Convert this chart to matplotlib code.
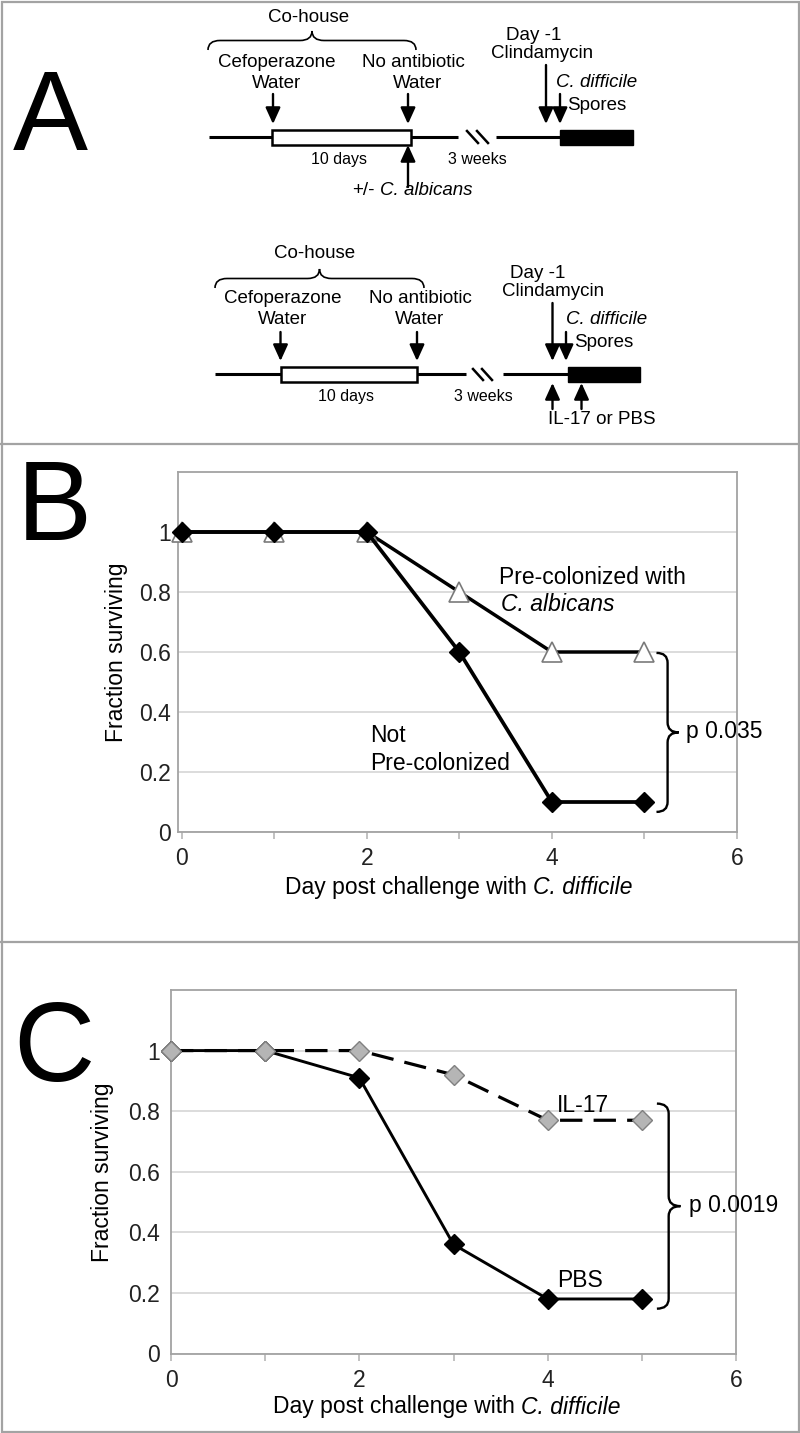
import matplotlib
matplotlib.use("Agg")
import matplotlib.pyplot as plt
from matplotlib.path import Path
from matplotlib.patches import PathPatch, Rectangle

plt.rcParams['font.family'] = ['Liberation Sans', 'DejaVu Sans']

# ---------------- data ----------------
days = [0, 1, 2, 3, 4, 5]
b_not_precolonized = [1, 1, 1, 0.6, 0.1, 0.1]
b_precolonized = [1, 1, 1, 0.8, 0.6, 0.6]
c_pbs = [1, 1, 0.91, 0.36, 0.18, 0.18]
c_il17 = [1, 1, 1, 0.92, 0.77, 0.77]
y_ticks = [0, 0.2, 0.4, 0.6, 0.8, 1]
y_ticklabels = ['0', '0.2', '0.4', '0.6', '0.8', '1']
x_major = [0, 2, 4, 6]
x_major_labels = ['0', '2', '4', '6']
x_minor = [1, 3, 5]
b_pvalue = 'p 0.035'
c_pvalue = 'p 0.0019'
ylabel_text = 'Fraction surviving'
xlabel_parts = [('Day post challenge with', 'normal'), ('C. difficile', 'italic')]
albicans_parts = [('+/-', 'normal'), ('C. albicans', 'italic')]

W, H = 800, 1433
fig = plt.figure(figsize=(W / 100, H / 100), dpi=100)
renderer = fig.canvas.get_renderer()
ov = fig.add_axes([0, 0, 1, 1])
ov.set_xlim(0, W)
ov.set_ylim(H, 0)
ov.axis('off')


def text_width(s, fs, style):
    t = ov.text(0, 0, s, fontsize=fs, style=style)
    w = t.get_window_extent(renderer).width
    t.remove()
    return w


def mixed_text(x, y, parts, fs, ha='center'):
    widths = [text_width(s, fs, st) for s, st in parts]
    sp = text_width('a a', fs, 'normal') - text_width('aa', fs, 'normal')
    total = sum(widths) + sp * (len(parts) - 1)
    x0 = x - total / 2 if ha == 'center' else x
    for (s, st), w in zip(parts, widths):
        ov.text(x0, y, s, fontsize=fs, style=st, ha='left', va='center')
        x0 += w + sp


GRAY = '#a3a3a3'
# frame & separators
ov.add_patch(Rectangle((1.5, 1.5), W - 3, H - 3, fill=False, ec=GRAY, lw=1.6))
ov.plot([0, W], [444, 444], color=GRAY, lw=1.6)
ov.plot([0, W], [942, 942], color=GRAY, lw=1.6)

# panel letters
for letter, x, yb in [('A', 13, 150), ('B', 17, 540), ('C', 13, 1081)]:
    ov.text(x, yb, letter, fontsize=81, ha='left', va='baseline', color='black')


def brace_path(t0, t1, s_end, s_tip, r, vertical=False):
    s_mid = (s_end + s_tip) / 2.0
    c = (t0 + t1) / 2.0
    sgn = 1 if t1 > t0 else -1
    pts = [(t0, s_end), (t0, s_mid), (t0 + sgn * r, s_mid),
           (c - sgn * r, s_mid), (c, s_mid), (c, s_tip),
           (c, s_mid), (c + sgn * r, s_mid),
           (t1 - sgn * r, s_mid), (t1, s_mid), (t1, s_end)]
    codes = [Path.MOVETO, Path.CURVE3, Path.CURVE3,
             Path.LINETO, Path.CURVE3, Path.CURVE3,
             Path.CURVE3, Path.CURVE3,
             Path.LINETO, Path.CURVE3, Path.CURVE3]
    if vertical:
        pts = [(s, t) for (t, s) in pts]
    return Path(pts, codes)


def arrow(x, y_from, y_to):
    ov.annotate('', xy=(x, y_to), xytext=(x, y_from),
                arrowprops=dict(arrowstyle='-|>,head_length=0.55,head_width=0.25',
                                lw=1.7, color='black', mutation_scale=18,
                                shrinkA=0, shrinkB=0))


def timeline(y, x0, box1, box2, brk0, brk1, bbox0, bbox1, brk_lines):
    ov.plot([x0, box1], [y, y], color='black', lw=2.2, solid_capstyle='butt')
    ov.plot([box2, brk0], [y, y], color='black', lw=2.2, solid_capstyle='butt')
    ov.plot([brk1, bbox0], [y, y], color='black', lw=2.2, solid_capstyle='butt')
    ov.add_patch(Rectangle((box1, y - 7.5), box2 - box1, 15, fc='white', ec='black', lw=1.8))
    ov.add_patch(Rectangle((bbox0, y - 7.5), bbox1 - bbox0, 15, fc='black', ec='black', lw=1.0))
    for (xa, ya, xb, yb) in brk_lines:
        ov.plot([xa, xb], [ya, yb], color='black', lw=1.8)


FS_A = 13.5
# ---------------- Panel A, top schematic ----------------
ov.text(309, 17, 'Co-house', fontsize=FS_A, ha='center', va='center')
ov.add_patch(PathPatch(brace_path(208, 416, 50, 31, 12), fill=False, lw=1.2, ec='black'))
ov.text(277, 62, 'Cefoperazone', fontsize=FS_A, ha='center', va='center')
ov.text(277, 83, 'Water', fontsize=FS_A, ha='center', va='center')
ov.text(413, 62, 'No antibiotic', fontsize=FS_A, ha='center', va='center')
ov.text(418, 83, 'Water', fontsize=FS_A, ha='center', va='center')
ov.text(534, 35, 'Day -1', fontsize=FS_A, ha='center', va='center')
ov.text(542, 53, 'Clindamycin', fontsize=FS_A, ha='center', va='center')
ov.text(556, 82, 'C. difficile', fontsize=FS_A, ha='left', va='center', style='italic')
ov.text(567, 105, 'Spores', fontsize=FS_A, ha='left', va='center')
arrow(273, 94, 124)
arrow(408, 94, 124)
arrow(546, 65, 124)
arrow(560, 94, 124)
arrow(408, 187, 145)
timeline(137, 209, 272, 411, 458, 496, 560, 633,
         [(467, 131, 478, 143), (477, 131, 488, 143)])
ov.text(339, 159, '10 days', fontsize=11.5, ha='center', va='center')
ov.text(477, 159, '3 weeks', fontsize=11.5, ha='center', va='center')
mixed_text(352, 190, albicans_parts, FS_A, ha='left')

# ---------------- Panel A, bottom schematic ----------------
ov.text(315, 253, 'Co-house', fontsize=FS_A, ha='center', va='center')
ov.add_patch(PathPatch(brace_path(215, 424, 288, 269, 12), fill=False, lw=1.2, ec='black'))
ov.text(283, 298, 'Cefoperazone', fontsize=FS_A, ha='center', va='center')
ov.text(283, 319, 'Water', fontsize=FS_A, ha='center', va='center')
ov.text(420, 298, 'No antibiotic', fontsize=FS_A, ha='center', va='center')
ov.text(420, 319, 'Water', fontsize=FS_A, ha='center', va='center')
ov.text(538, 273, 'Day -1', fontsize=FS_A, ha='center', va='center')
ov.text(553, 291, 'Clindamycin', fontsize=FS_A, ha='center', va='center')
ov.text(566, 319, 'C. difficile', fontsize=FS_A, ha='left', va='center', style='italic')
ov.text(574, 342, 'Spores', fontsize=FS_A, ha='left', va='center')
arrow(280.5, 332, 361)
arrow(417, 332, 361)
arrow(552.5, 303, 361)
arrow(566, 332, 361)
arrow(552.5, 409, 383)
arrow(581.5, 409, 383)
timeline(374, 215, 280.5, 417, 466, 503, 567.5, 639.5,
         [(473, 369, 483, 380), (482, 369, 492, 380)])
ov.text(346.5, 396, '10 days', fontsize=11.5, ha='center', va='center')
ov.text(483, 396, '3 weeks', fontsize=11.5, ha='center', va='center')
ov.text(602, 419, 'IL-17 or PBS', fontsize=FS_A, ha='center', va='center')


# ---------------- survival panels ----------------
def rect(l, t, r, b):
    return [l / W, 1 - b / H, (r - l) / W, (b - t) / H]


FS = 16.5


def style_axes(ax, xlim, ypad):
    ax.set_xlim(*xlim)
    ax.set_ylim(0, 1.2)
    ax.set_yticks(y_ticks)
    ax.set_yticklabels(y_ticklabels, fontsize=FS)
    ax.set_xticks(x_major)
    ax.set_xticklabels(x_major_labels, fontsize=FS)
    ax.set_xticks(x_minor, minor=True)
    ax.tick_params(axis='y', length=0, pad=ypad, labelcolor='#222222')
    ax.tick_params(axis='x', which='both', direction='out', length=5, width=1.1,
                   color='#b0b0b0', labelcolor='#222222', pad=6)
    for sp in ax.spines.values():
        sp.set_color(GRAY)
        sp.set_linewidth(1.3)
    ax.grid(axis='y', color='#d6d6d6', lw=1.2)
    ax.set_axisbelow(True)


def d2p(ax, x, y):
    return ov.transData.inverted().transform(ax.transData.transform((x, y)))


def data_brace(ax, x_end, x_tip, y_top, y_bot):
    xe, yt = d2p(ax, x_end, y_top)
    xt, yb = d2p(ax, x_tip, y_bot)
    p = brace_path(yt, yb, xe, xt, 10, vertical=True)
    ax.add_patch(PathPatch(p, fill=False, lw=1.7, ec='black', transform=ov.transData,
                           clip_on=False))


# Panel B
axB = fig.add_axes(rect(178, 472, 737, 832))
style_axes(axB, (-0.04, 6.0), 5)
axB.plot(days, b_precolonized, color='black', lw=2.5, marker='^', ms=15,
         mfc='white', mec='#7a7a7a', mew=1.2, zorder=3, clip_on=False)
axB.plot(days, b_not_precolonized, color='black', lw=2.7, marker='D', ms=10.5,
         mfc='black', mec='black', zorder=4, clip_on=False)
axB.text(3.43, 0.85, 'Pre-colonized with', fontsize=FS, ha='left', va='center')
axB.text(3.45, 0.757, 'C. albicans', fontsize=FS, ha='left', va='center', style='italic')
axB.text(2.04, 0.32, 'Not', fontsize=FS, ha='left', va='center')
axB.text(2.04, 0.23, 'Pre-colonized', fontsize=FS, ha='left', va='center')
data_brace(axB, 5.13, 5.37, 0.597, 0.067)
axB.text(5.45, 0.335, b_pvalue, fontsize=FS, ha='left', va='center', clip_on=False)
ov.text(117, 652, ylabel_text, fontsize=FS, rotation=90, ha='center', va='center')
mixed_text(459, 887, xlabel_parts, FS)

# Panel C
axC = fig.add_axes(rect(171, 990, 736, 1353.5))
style_axes(axC, (0, 6.0), 8)
axC.plot(days, c_pbs, color='black', lw=2.1, marker='D', ms=10,
         mfc='black', mec='black', zorder=3, clip_on=False)
axC.plot(days, c_il17, color='black', lw=2.3, ls=(0, (7, 3.5)), marker='D', ms=10.5,
         mfc='#b5b5b5', mec='#808080', mew=1.0, zorder=4, clip_on=False)
axC.text(4.1, 0.82, 'IL-17', fontsize=FS, ha='left', va='center')
axC.text(4.1, 0.24, 'PBS', fontsize=FS, ha='left', va='center')
data_brace(axC, 5.16, 5.41, 0.825, 0.148)
axC.text(5.5, 0.488, c_pvalue, fontsize=FS, ha='left', va='center', clip_on=False)
ov.text(103, 1172, ylabel_text, fontsize=FS, rotation=90, ha='center', va='center')
mixed_text(447, 1407, xlabel_parts, FS)

fig.savefig('out.png', dpi=100)
